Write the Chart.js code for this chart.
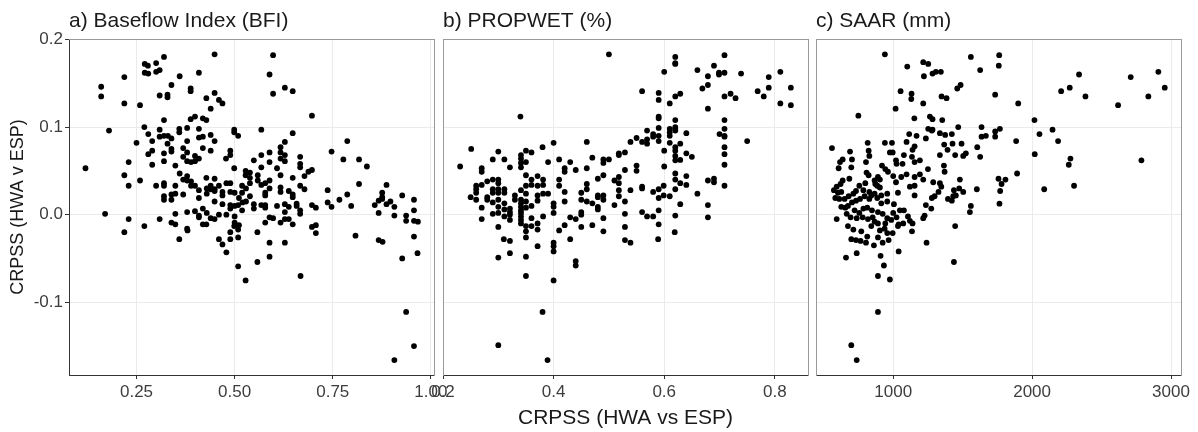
<!DOCTYPE html>
<html><head><meta charset="utf-8">
<script src="https://cdn.jsdelivr.net/npm/chart.js@4.4.1/dist/chart.umd.min.js"></script>
<style>
html,body{margin:0;padding:0;background:#fff;}
#wrap{position:relative;width:1198px;height:432px;overflow:hidden;background:#fff;}
canvas{position:absolute;top:0;}
</style></head><body>
<div id="wrap">
<canvas id="cA" width="460" height="432" style="left:0px"></canvas>
<canvas id="cB" width="400" height="432" style="left:420px"></canvas>
<canvas id="cC" width="398" height="432" style="left:800px"></canvas>
</div>
<script>
// ---- data: [x, CRPSS] per catchment ----
const bfiData = [
[0.320,0.180],[0.449,0.183],[0.271,0.172],[0.279,0.170],[0.300,0.173],[0.271,0.162],[0.280,0.161],[0.300,0.163],[0.309,0.165],[0.219,0.157],
[0.360,0.158],[0.409,0.162],[0.160,0.146],[0.160,0.135],[0.339,0.148],[0.388,0.144],[0.388,0.141],[0.309,0.136],[0.329,0.137],[0.329,0.134],
[0.449,0.139],[0.428,0.133],[0.460,0.131],[0.469,0.127],[0.219,0.127],[0.259,0.125],[0.439,0.121],[0.399,0.112],[0.388,0.109],[0.419,0.110],
[0.428,0.108],[0.320,0.108],[0.180,0.096],[0.270,0.100],[0.309,0.097],[0.359,0.098],[0.359,0.094],[0.379,0.099],[0.409,0.098],[0.499,0.097],
[0.499,0.094],[0.509,0.090],[0.280,0.092],[0.309,0.089],[0.320,0.090],[0.330,0.090],[0.339,0.087],[0.419,0.089],[0.409,0.088],[0.439,0.091],
[0.379,0.084],[0.250,0.082],[0.290,0.084],[0.329,0.081],[0.419,0.076],[0.449,0.084],[0.439,0.073],[0.339,0.075],[0.339,0.072],[0.369,0.076],
[0.489,0.073],[0.489,0.068],[0.280,0.069],[0.290,0.073],[0.320,0.070],[0.379,0.071],[0.399,0.067],[0.369,0.066],[0.379,0.061],[0.389,0.060],
[0.399,0.061],[0.409,0.064],[0.478,0.064],[0.320,0.061],[0.230,0.060],[0.290,0.057],[0.349,0.056],[0.549,0.062],[0.120,0.053],[0.499,0.053],
[0.360,0.047],[0.379,0.044],[0.219,0.045],[0.259,0.039],[0.369,0.040],[0.379,0.039],[0.389,0.038],[0.428,0.042],[0.449,0.041],[0.528,0.050],
[0.539,0.048],[0.528,0.045],[0.539,0.042],[0.559,0.045],[0.230,0.033],[0.300,0.033],[0.320,0.036],[0.320,0.033],[0.349,0.033],[0.389,0.033],
[0.399,0.033],[0.429,0.030],[0.439,0.033],[0.449,0.029],[0.460,0.033],[0.479,0.036],[0.489,0.036],[0.519,0.033],[0.539,0.036],[0.559,0.039],
[0.529,0.030],[0.500,0.025],[0.519,0.025],[0.539,0.021],[0.409,0.028],[0.429,0.024],[0.439,0.029],[0.449,0.027],[0.469,0.026],[0.469,0.022],
[0.489,0.026],[0.511,0.019],[0.520,0.014],[0.320,0.021],[0.320,0.017],[0.339,0.023],[0.349,0.024],[0.369,0.023],[0.339,0.017],[0.409,0.019],
[0.449,0.015],[0.469,0.012],[0.489,0.011],[0.489,0.007],[0.500,0.010],[0.509,0.011],[0.529,0.015],[0.549,0.012],[0.549,0.007],[0.170,0.001],
[0.230,-0.005],[0.309,-0.005],[0.349,0.001],[0.379,0.003],[0.399,0.004],[0.419,0.007],[0.429,0.002],[0.409,-0.001],[0.409,-0.003],[0.439,-0.004],
[0.460,0.000],[0.479,0.000],[0.500,-0.002],[0.519,0.005],[0.449,-0.005],[0.500,-0.009],[0.339,-0.009],[0.349,-0.011],[0.419,-0.011],[0.428,-0.011],
[0.270,-0.013],[0.379,-0.016],[0.511,-0.012],
[0.598,0.182],[0.589,0.160],[0.598,0.138],[0.628,0.145],[0.648,0.141],[0.697,0.113],[0.568,0.097],[0.648,0.093],[0.628,0.083],[0.617,0.077],
[0.617,0.071],[0.628,0.068],[0.617,0.064],[0.628,0.061],[0.568,0.068],[0.589,0.071],[0.589,0.060],[0.568,0.054],[0.608,0.053],[0.667,0.066],
[0.667,0.058],[0.667,0.054],[0.678,0.044],[0.688,0.049],[0.697,0.051],[0.568,0.034],[0.578,0.036],[0.589,0.039],[0.617,0.045],[0.648,0.042],
[0.667,0.033],[0.678,0.029],[0.578,0.025],[0.578,0.022],[0.589,0.030],[0.617,0.031],[0.617,0.026],[0.638,0.027],[0.648,0.023],[0.648,0.020],
[0.568,0.011],[0.578,0.011],[0.578,0.008],[0.608,0.010],[0.628,0.012],[0.628,0.003],[0.638,0.009],[0.658,0.0125],[0.658,0.010],[0.667,0.005],
[0.667,0.001],[0.697,0.011],[0.707,0.008],[0.578,-0.009],[0.589,-0.003],[0.598,-0.004],[0.617,-0.009],[0.628,-0.005],[0.638,-0.005],[0.648,-0.011],
[0.697,-0.014],[0.707,-0.012],[0.747,0.072],[0.787,0.084],[0.777,0.063],[0.817,0.063],[0.837,0.055],[0.737,0.028],[0.817,0.035],[0.787,0.023],
[0.887,0.034],[0.876,0.025],[0.876,0.020],[0.767,0.017],[0.737,0.014],[0.747,0.009],[0.797,0.010],[0.857,0.011],[0.867,0.016],[0.876,0.018],
[0.887,0.012],[0.897,0.015],[0.907,0.009],[0.867,0.002],[0.907,-0.001],[0.927,0.022],[0.957,0.017],[0.957,0.005],[0.937,-0.001],[0.937,-0.007],
[0.957,-0.007],[0.967,-0.008],
[0.219,-0.020],[0.359,-0.028],[0.380,-0.018],[0.460,-0.028],[0.469,-0.034],[0.479,-0.043],[0.489,-0.020],[0.489,-0.028],[0.499,-0.013],[0.509,-0.017],
[0.509,-0.026],[0.509,-0.059],[0.528,-0.075],[0.558,-0.020],[0.558,-0.054],[0.589,-0.032],[0.589,-0.048],[0.628,-0.032],[0.668,-0.070],[0.707,-0.021],
[0.808,-0.024],[0.867,-0.029],[0.877,-0.031],[0.927,-0.050],[0.937,-0.111],[0.907,-0.166],[0.957,-0.025],[0.957,-0.150],[0.966,-0.044]
];

const propwetData = [
[0.231,0.055],[0.251,0.075],[0.270,0.053],[0.270,0.049],[0.290,0.063],[0.300,0.072],[0.311,0.063],[0.321,0.054],[0.341,0.068],[0.341,0.064],
[0.341,0.059],[0.341,0.054],[0.350,0.073],[0.360,0.071],[0.350,0.060],[0.380,0.077],[0.400,0.082],[0.390,0.060],[0.410,0.063],[0.430,0.060],
[0.420,0.053],[0.420,0.049],[0.440,0.051],[0.460,0.083],[0.460,0.053],[0.470,0.065],[0.490,0.063],[0.490,0.059],[0.500,0.063],[0.518,0.070],
[0.518,0.068],[0.529,0.071],[0.539,0.083],[0.529,0.051],[0.340,0.112],
[0.250,0.020],[0.260,0.033],[0.260,0.029],[0.260,0.025],[0.260,0.017],[0.270,0.034],[0.270,0.008],[0.270,-0.005],[0.280,0.038],[0.280,0.020],
[0.280,0.017],[0.290,0.040],[0.290,0.029],[0.290,0.025],[0.290,0.014],[0.290,0.001],[0.300,0.040],[0.300,0.036],[0.300,0.029],[0.300,0.025],
[0.300,0.017],[0.300,0.009],[0.300,0.002],[0.300,-0.014],[0.311,0.029],[0.311,0.025],[0.311,0.013],[0.311,0.006],[0.311,-0.002],[0.321,0.007],
[0.321,0.003],[0.321,0.000],[0.321,-0.006],[0.330,0.022],[0.330,0.017],[0.341,0.028],[0.341,0.017],[0.341,0.013],[0.341,0.009],[0.341,0.005],
[0.341,0.002],[0.341,-0.002],[0.341,-0.006],[0.341,-0.010],[0.350,0.045],[0.350,0.033],[0.350,0.024],[0.350,0.015],[0.350,0.008],[0.350,-0.013],
[0.350,-0.019],[0.350,-0.026],[0.360,0.040],[0.360,0.034],[0.360,0.010],[0.360,-0.004],[0.360,-0.013],[0.371,0.044],[0.371,0.033],[0.371,0.022],
[0.371,0.016],[0.371,-0.010],[0.371,-0.017],[0.371,-0.036],[0.381,0.040],[0.381,0.034],[0.381,0.024],[0.381,-0.002],[0.390,0.024],[0.400,0.013],
[0.400,0.009],[0.400,0.002],[0.410,0.040],[0.410,0.033],[0.410,-0.018],[0.420,0.026],[0.420,0.015],[0.420,-0.012],[0.430,-0.003],[0.430,-0.028],
[0.440,-0.005],[0.450,0.025],[0.450,0.017],[0.450,0.003],[0.450,0.000],[0.450,-0.014],[0.460,0.035],[0.460,0.029],[0.460,0.015],[0.470,0.013],
[0.470,-0.012],[0.480,0.041],[0.480,0.022],[0.480,0.020],[0.480,0.009],[0.480,0.006],[0.490,0.045],[0.490,0.022],[0.490,0.017],[0.490,-0.004],
[0.490,-0.019],[0.510,0.039],[0.510,0.011],[0.518,0.043],[0.518,0.036],[0.518,0.028],[0.518,0.021],[0.529,0.015],[0.529,0.001],[0.529,-0.014],
[0.529,-0.029],[0.539,0.028],[0.539,-0.032],[0.400,-0.032],[0.400,-0.036],[0.400,-0.042],[0.300,-0.049],[0.321,-0.044],[0.350,-0.048],[0.310,-0.028],
[0.321,-0.030],
[0.500,0.183],[0.620,0.180],[0.620,0.173],[0.620,0.172],[0.600,0.163],[0.660,0.165],[0.690,0.170],[0.679,0.158],[0.699,0.162],[0.699,0.160],
[0.709,0.162],[0.709,0.182],[0.739,0.161],[0.789,0.157],[0.810,0.163],[0.669,0.144],[0.679,0.148],[0.769,0.141],[0.780,0.135],[0.789,0.145],
[0.829,0.145],[0.560,0.141],[0.590,0.139],[0.590,0.131],[0.610,0.127],[0.620,0.135],[0.629,0.138],[0.709,0.135],[0.720,0.138],[0.729,0.133],
[0.679,0.121],[0.810,0.127],[0.829,0.125],[0.590,0.112],[0.590,0.110],[0.590,0.099],[0.620,0.108],[0.610,0.098],[0.610,0.094],[0.610,0.090],
[0.620,0.100],[0.620,0.098],[0.620,0.096],[0.640,0.093],[0.700,0.092],[0.709,0.098],[0.709,0.090],[0.709,0.089],[0.709,0.108],[0.750,0.084],
[0.569,0.096],[0.580,0.092],[0.580,0.089],[0.590,0.090],[0.569,0.086],[0.569,0.081],[0.560,0.083],[0.550,0.0875],[0.590,0.084],[0.610,0.082],
[0.629,0.081],[0.600,0.073],[0.620,0.077],[0.620,0.073],[0.640,0.070],[0.650,0.066],[0.620,0.067],[0.620,0.062],[0.629,0.0625],[0.709,0.077],
[0.709,0.069],[0.709,0.057],[0.600,0.055],[0.620,0.047],[0.640,0.044],[0.620,0.040],[0.629,0.036],[0.640,0.034],[0.599,0.033],[0.620,0.029],
[0.590,0.029],[0.590,0.019],[0.599,0.022],[0.610,0.021],[0.580,0.026],[0.560,0.032],[0.560,0.030],[0.629,0.012],[0.660,0.024],[0.679,0.039],
[0.690,0.041],[0.690,0.037],[0.709,0.033],[0.679,0.011],[0.679,-0.003],[0.620,-0.001],[0.590,0.005],[0.590,-0.011],[0.569,-0.002],[0.580,-0.002],
[0.560,0.003],[0.550,0.056],[0.550,0.050],
[0.300,-0.149],[0.380,-0.111],[0.389,-0.166],[0.350,-0.070],[0.400,-0.075],[0.440,-0.053],[0.440,-0.058],[0.589,-0.028],[0.619,-0.020]
];

const saarData = [
[559,0.076],[816,0.082],[940,0.082],[991,0.082],[1096,0.083],[1115,0.092],[1168,0.090],[1235,0.087],[1278,0.096],[1336,0.093],
[1374,0.091],[1422,0.092],[1367,0.080],[1427,0.081],[1492,0.081],[1391,0.074],[1446,0.068],[1336,0.068],[1154,0.078],[1139,0.074],
[1077,0.068],[976,0.071],[996,0.071],[823,0.073],[828,0.067],[689,0.072],[617,0.060],[607,0.053],[636,0.063],[703,0.063],
[698,0.054],[804,0.060],[808,0.048],[823,0.045],[919,0.056],[943,0.052],[962,0.049],[1020,0.062],[1024,0.058],[1067,0.058],
[1135,0.066],[1154,0.060],[1192,0.062],[1250,0.052],[1365,0.056],[1370,0.049],[1504,0.067],[1096,0.046],[1192,0.046],[1154,0.043],
[1058,0.043],[1000,0.044],[1020,0.037],[890,0.043],[904,0.040],[866,0.039],[871,0.035],[885,0.033],[904,0.031],[684,0.041],
[636,0.039],[621,0.035],[593,0.032],[573,0.028],[602,0.025],[626,0.026],[583,0.019],[612,0.018],[650,0.018],[679,0.021],
[713,0.024],[756,0.033],[799,0.036],[732,0.027],[785,0.028],[828,0.026],[866,0.024],[914,0.022],[957,0.024],[1034,0.025],
[1120,0.032],[1154,0.033],[1154,0.022],[1216,0.040],[1288,0.037],[1336,0.036],[1346,0.032],[1326,0.026],[1298,0.021],[1278,0.019],
[1437,0.028],[1451,0.022],[1480,0.040],[1475,0.030],[1504,0.026],[1422,0.016],[1432,0.021],[1394,0.018],[1235,0.011],[1226,-0.001],
[1216,-0.004],[1274,0.007],[626,0.009],[655,0.008],[674,0.010],[703,0.014],[732,0.016],[761,0.018],[794,0.021],[828,0.018],
[842,0.022],[885,0.019],[914,0.013],[957,0.015],[1005,0.012],[722,0.005],[756,0.002],[785,0.007],[813,0.008],[847,0.005],
[890,0.003],[924,0.001],[957,-0.004],[1000,0.002],[1048,0.005],[1077,0.005],[1106,-0.002],[1024,-0.003],[593,-0.005],[665,0.001],
[693,-0.003],[737,-0.004],[780,-0.003],[818,-0.005],[852,-0.003],[866,-0.008],[890,-0.010],[943,-0.010],[986,-0.006],[1039,-0.011],
[1072,-0.010],[1120,-0.007],[674,-0.013],[713,-0.017],[770,-0.019],[813,-0.025],[842,-0.013],[904,-0.018],[938,-0.016],[957,-0.021],
[1034,-0.013],[1139,-0.010],[1135,-0.019],[698,-0.028],[732,-0.029],[765,-0.030],[804,-0.032],[861,-0.035],[890,-0.026],[924,-0.032],
[967,-0.029],[996,-0.021],[1446,-0.013],[1240,-0.032],[1039,-0.042],[737,-0.044],[660,-0.049],[909,-0.047],[933,-0.058],[890,-0.070],
[976,-0.074],[1437,-0.054],
[940,0.183],[1101,0.169],[1216,0.174],[1252,0.172],[1221,0.158],[1283,0.161],[1307,0.163],[1053,0.141],[1132,0.138],[1130,0.132],
[1216,0.127],[1017,0.121],[749,0.113],[1152,0.110],[1264,0.112],[1283,0.109],[1252,0.098],[1283,0.097],
[1343,0.163],[1559,0.180],[1763,0.182],[1760,0.170],[1626,0.165],[1461,0.144],[1485,0.148],[1734,0.137],[1900,0.127],[1348,0.135],
[1384,0.133],[1353,0.108],[1468,0.100],[1636,0.100],[1768,0.098],[1734,0.095],[1734,0.089],[1636,0.089],[1667,0.090],[1885,0.084],
[1605,0.077],[1626,0.066],[1523,0.070],[2017,0.108],[2053,0.092],[2147,0.097],[2187,0.084],[2019,0.069],[2276,0.064],[2264,0.057],
[2787,0.062],[1758,0.041],[1808,0.040],[1780,0.035],[1770,0.027],[1765,0.0125],[1892,0.047],[2087,0.029],[2302,0.033],[1559,0.010],
[1552,0.003],[1602,0.029],[2209,0.141],[2271,0.145],[2338,0.160],[2384,0.135],[2619,0.125],[2710,0.157],[2837,0.135],[2909,0.163],
[2955,0.145],
[698,-0.149],[737,-0.166],[890,-0.111]
];

// ---- ticks, ranges, labels ----
const yTicks = [-0.1, 0.0, 0.1, 0.2];
const yRange = [-0.183, 0.2005];
const bfiTicks = [0.25, 0.50, 0.75, 1.00];
const bfiRange = [0.078, 1.008];
const propwetTicks = [0.2, 0.4, 0.6, 0.8];
const propwetRange = [0.2, 0.86];
const saarTicks = [1000, 2000, 3000];
const saarRange = [444, 3072];
const panelTitles = ['a) Baseflow Index (BFI)', 'b) PROPWET (%)', 'c) SAAR (mm)'];
const yTitle = 'CRPSS (HWA v ESP)';
const xTitle = 'CRPSS (HWA vs ESP)';

const FONT = '"Liberation Sans", Arial, Helvetica, sans-serif';
const DARK = '#333333';
const LIGHT = '#9a9a9a';
const GRID = '#ebebeb';
const TICKTXT = '#3d3d3d';

function panel(id, data, xRange, xTicks, xDec, o) {
  return new Chart(document.getElementById(id), {
    type: 'scatter',
    data: { datasets: [{
      data: data.map(p => ({x: p[0], y: p[1]})),
      backgroundColor: '#000', borderWidth: 0,
      pointRadius: 2.9, pointHoverRadius: 2.9
    }]},
    options: {
      responsive: false, animation: false, devicePixelRatio: 1,
      events: [],
      layout: { padding: { left: o.padL, right: o.padR, top: 0, bottom: 0 } },
      plugins: {
        legend: { display: false }, tooltip: { enabled: false },
        title: { display: true, text: o.title, align: 'start', fullSize: false,
          color: '#1a1a1a', font: { family: FONT, size: 21, weight: 'normal', lineHeight: 1.2 },
          padding: { top: 9, bottom: 4.8 } }
      },
      scales: {
        x: {
          type: 'linear', position: 'bottom', min: xRange[0], max: xRange[1],
          afterBuildTicks: s => { s.ticks = xTicks.map(v => ({ value: v })); },
          afterFit: s => { s.height = 57; s.paddingLeft = 0; s.paddingRight = 0; },
          grid: { color: GRID, lineWidth: 1, drawTicks: true, tickLength: 4, tickColor: DARK, tickWidth: 1 },
          border: { display: true, color: DARK, width: 1 },
          ticks: { color: TICKTXT, font: { family: FONT, size: 17 }, padding: 3,
            maxRotation: 0, autoSkip: false, callback: v => Number(v).toFixed(xDec) },
          title: { display: !!o.xTitle, text: xTitle, color: '#1a1a1a',
            font: { family: FONT, size: 21, weight: 'normal', lineHeight: 1.2 },
            padding: { top: 0, bottom: 1 } }
        },
        y: {
          type: 'linear', position: 'left', min: yRange[0], max: yRange[1],
          afterBuildTicks: s => { s.ticks = yTicks.map(v => ({ value: v })); },
          afterFit: s => { s.width = o.yAxis ? 69 : 0; s.paddingTop = 0; s.paddingBottom = 0; },
          grid: { color: GRID, lineWidth: 1, drawTicks: !!o.yAxis, tickLength: 4, tickColor: DARK, tickWidth: 1 },
          border: { display: true, color: o.yAxis ? DARK : LIGHT, width: 1 },
          ticks: { display: !!o.yAxis, color: TICKTXT, font: { family: FONT, size: 17 }, padding: 2,
            callback: v => Number(v).toFixed(1) },
          title: { display: !!o.yAxis, text: yTitle, color: '#1a1a1a',
            font: { family: FONT, size: 18, weight: 'normal', lineHeight: 1.2 },
            padding: { top: 7, bottom: 0 } }
        },
        xTop: {
          type: 'linear', position: 'top', display: true,
          grid: { display: false, drawTicks: false },
          ticks: { display: false },
          border: { display: true, color: LIGHT, width: 1 },
          afterFit: s => { s.height = 0; s.paddingLeft = 0; s.paddingRight = 0; }
        },
        yRight: {
          type: 'linear', position: 'right', display: true,
          grid: { display: false, drawTicks: false },
          ticks: { display: false },
          border: { display: true, color: LIGHT, width: 1 },
          afterFit: s => { s.width = 0; s.paddingTop = 0; s.paddingBottom = 0; }
        }
      }
    }
  });
}

panel('cA', bfiData, bfiRange, bfiTicks, 2, { padL: 0, padR: 26, title: panelTitles[0], yAxis: true });
panel('cB', propwetData, propwetRange, propwetTicks, 1, { padL: 23, padR: 12, title: panelTitles[1], xTitle: true });
panel('cC', saarData, saarRange, saarTicks, 0, { padL: 16, padR: 17, title: panelTitles[2] });
</script>
</body></html>
